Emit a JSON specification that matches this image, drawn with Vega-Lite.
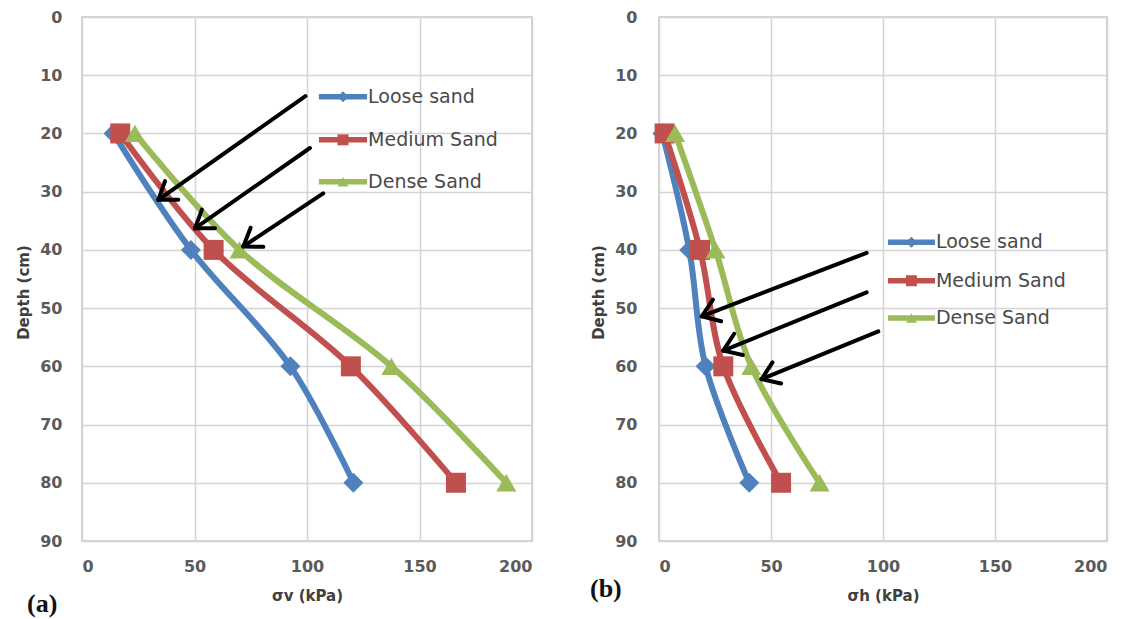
{
  "$schema": "https://vega.github.io/schema/vega-lite/v6.json",
  "background": "white",
  "padding": {"left": 15, "top": 8, "right": 5, "bottom": 5},
  "spacing": 127,
  "bounds": "flush",
  "datasets": {
    "pts": [
      {"panel": "a", "series": "Loose sand", "x": 14, "depth": 20},
      {"panel": "a", "series": "Loose sand", "x": 48.4, "depth": 40},
      {"panel": "a", "series": "Loose sand", "x": 92.6, "depth": 60},
      {"panel": "a", "series": "Loose sand", "x": 120.6, "depth": 80},
      {"panel": "a", "series": "Medium Sand", "x": 17, "depth": 20},
      {"panel": "a", "series": "Medium Sand", "x": 58.5, "depth": 40},
      {"panel": "a", "series": "Medium Sand", "x": 119.5, "depth": 60},
      {"panel": "a", "series": "Medium Sand", "x": 166.2, "depth": 80},
      {"panel": "a", "series": "Dense Sand", "x": 23.5, "depth": 20},
      {"panel": "a", "series": "Dense Sand", "x": 70, "depth": 40},
      {"panel": "a", "series": "Dense Sand", "x": 137.5, "depth": 60},
      {"panel": "a", "series": "Dense Sand", "x": 188.6, "depth": 80},
      {"panel": "b", "series": "Loose sand", "x": 1.5, "depth": 20},
      {"panel": "b", "series": "Loose sand", "x": 13.5, "depth": 40},
      {"panel": "b", "series": "Loose sand", "x": 20.8, "depth": 60},
      {"panel": "b", "series": "Loose sand", "x": 40.3, "depth": 80},
      {"panel": "b", "series": "Medium Sand", "x": 2.5, "depth": 20},
      {"panel": "b", "series": "Medium Sand", "x": 18.3, "depth": 40},
      {"panel": "b", "series": "Medium Sand", "x": 28.7, "depth": 60},
      {"panel": "b", "series": "Medium Sand", "x": 54.5, "depth": 80},
      {"panel": "b", "series": "Dense Sand", "x": 7.2, "depth": 20},
      {"panel": "b", "series": "Dense Sand", "x": 25.2, "depth": 40},
      {"panel": "b", "series": "Dense Sand", "x": 41.2, "depth": 60},
      {"panel": "b", "series": "Dense Sand", "x": 71.7, "depth": 80}
    ],
    "leg": [
      {"panel": "a", "series": "Loose sand", "x": 105.3, "xm": 116, "x2": 126.7, "depth": 13.7},
      {"panel": "a", "series": "Medium Sand", "x": 105.3, "xm": 116, "x2": 126.7, "depth": 21.1},
      {"panel": "a", "series": "Dense Sand", "x": 105.3, "xm": 116, "x2": 126.7, "depth": 28.3},
      {"panel": "b", "series": "Loose sand", "x": 102.2, "xm": 112.7, "x2": 123.2, "depth": 38.7},
      {"panel": "b", "series": "Medium Sand", "x": 102.2, "xm": 112.7, "x2": 123.2, "depth": 45.3},
      {"panel": "b", "series": "Dense Sand", "x": 102.2, "xm": 112.7, "x2": 123.2, "depth": 51.7}
    ],
    "arr": [
      {"panel": "a", "x": 99.3, "y": 13.6, "x2": 33.9, "y2": 31.4},
      {"panel": "a", "x": 33.9, "y": 31.4, "x2": 42.8, "y2": 31.39},
      {"panel": "a", "x": 33.9, "y": 31.4, "x2": 36.9, "y2": 28.18},
      {"panel": "a", "x": 101.3, "y": 22.5, "x2": 50.2, "y2": 36.3},
      {"panel": "a", "x": 50.2, "y": 36.3, "x2": 59.11, "y2": 36.3},
      {"panel": "a", "x": 50.2, "y": 36.3, "x2": 53.29, "y2": 33.08},
      {"panel": "a", "x": 107.2, "y": 30.3, "x2": 71.7, "y2": 39.4},
      {"panel": "a", "x": 71.7, "y": 39.4, "x2": 80.58, "y2": 39.48},
      {"panel": "a", "x": 71.7, "y": 39.4, "x2": 74.95, "y2": 36.19},
      {"panel": "b", "x": 92.7, "y": 40.5, "x2": 19.1, "y2": 51.4},
      {"panel": "b", "x": 19.1, "y": 51.4, "x2": 27.76, "y2": 52.25},
      {"panel": "b", "x": 19.1, "y": 51.4, "x2": 24.09, "y2": 48.56},
      {"panel": "b", "x": 92.7, "y": 47.3, "x2": 28.7, "y2": 57.3},
      {"panel": "b", "x": 28.7, "y": 57.3, "x2": 37.41, "y2": 58.06},
      {"panel": "b", "x": 28.7, "y": 57.3, "x2": 33.56, "y2": 54.41},
      {"panel": "b", "x": 97.9, "y": 54.0, "x2": 45.8, "y2": 62.2},
      {"panel": "b", "x": 45.8, "y": 62.2, "x2": 54.51, "y2": 62.96},
      {"panel": "b", "x": 45.8, "y": 62.2, "x2": 50.64, "y2": 59.31}
    ]
  },
  "config": {
    "view": {"stroke": "#c8c8c8", "strokeWidth": 1.5},
    "axis": {
      "grid": true,
      "gridColor": "#d4d4d4",
      "gridWidth": 1.5,
      "domain": false,
      "ticks": false,
      "labelFont": "DejaVu Sans",
      "labelFontSize": 16,
      "labelFontWeight": "bold",
      "labelColor": "#5a5a5a",
      "titleFont": "DejaVu Sans",
      "titleFontSize": 15,
      "titleFontWeight": "bold",
      "titleColor": "#404040"
    },
    "title": {
      "font": "Liberation Serif",
      "fontSize": 26,
      "fontWeight": "bold",
      "color": "#111111",
      "orient": "bottom",
      "anchor": "start",
      "frame": "group"
    }
  },
  "hconcat": [
    {
      "width": 450,
      "height": 524,
      "title": {"text": "(a)", "dx": -55, "offset": -12},
      "layer": [
        {
          "data": {"name": "pts"},
          "transform": [{"filter": "datum.panel === 'a'"}],
          "mark": {"type": "line", "strokeWidth": 6, "interpolate": "catmull-rom"},
          "encoding": {
            "x": {"field": "x", "type": "quantitative", "scale": {"domain": [0, 200]},
                  "axis": {"values": [0, 50, 100, 150, 200], "title": "σv (kPa)", "labelPadding": 17, "titlePadding": 14}},
            "y": {"field": "depth", "type": "quantitative", "scale": {"domain": [0, 90], "reverse": true},
                  "axis": {"values": [0, 10, 20, 30, 40, 50, 60, 70, 80, 90], "title": "Depth (cm)", "labelPadding": 20, "titlePadding": 8, "titleY": 275}},
            "color": {"field": "series", "type": "nominal", "legend": null,
                      "scale": {"domain": ["Loose sand", "Medium Sand", "Dense Sand"], "range": ["#4f81bd", "#c0504d", "#9bbb59"]}},
            "order": {"field": "depth"}
          }
        },
        {
          "data": {"name": "pts"},
          "transform": [{"filter": "datum.panel === 'a'"}],
          "mark": {"type": "point", "filled": true, "opacity": 1, "size": 400},
          "encoding": {
            "x": {"field": "x", "type": "quantitative"},
            "y": {"field": "depth", "type": "quantitative"},
            "color": {"field": "series", "type": "nominal", "legend": null},
            "shape": {"field": "series", "type": "nominal", "legend": null,
                      "scale": {"domain": ["Loose sand", "Medium Sand", "Dense Sand"], "range": ["diamond", "square", "triangle-up"]}}
          }
        },
        {
          "data": {"name": "leg"},
          "transform": [{"filter": "datum.panel === 'a'"}],
          "mark": {"type": "rule", "strokeWidth": 5.5},
          "encoding": {
            "x": {"field": "x", "type": "quantitative"},
            "x2": {"field": "x2"},
            "y": {"field": "depth", "type": "quantitative"},
            "color": {"field": "series", "type": "nominal", "legend": null}
          }
        },
        {
          "data": {"name": "leg"},
          "transform": [{"filter": "datum.panel === 'a'"}],
          "mark": {"type": "point", "filled": true, "opacity": 1, "size": 120},
          "encoding": {
            "x": {"field": "xm", "type": "quantitative"},
            "y": {"field": "depth", "type": "quantitative"},
            "color": {"field": "series", "type": "nominal", "legend": null},
            "shape": {"field": "series", "type": "nominal", "legend": null}
          }
        },
        {
          "data": {"name": "leg"},
          "transform": [{"filter": "datum.panel === 'a'"}],
          "mark": {"type": "text", "align": "left", "baseline": "middle", "dx": 1, "font": "DejaVu Sans", "fontSize": 19, "color": "#4a4a4a"},
          "encoding": {
            "x": {"field": "x2", "type": "quantitative"},
            "y": {"field": "depth", "type": "quantitative"},
            "text": {"field": "series"}
          }
        },
        {
          "data": {"name": "arr"},
          "transform": [{"filter": "datum.panel === 'a'"}],
          "mark": {"type": "rule", "strokeWidth": 4, "color": "#000000", "strokeCap": "round"},
          "encoding": {
            "x": {"field": "x", "type": "quantitative"},
            "y": {"field": "y", "type": "quantitative"},
            "x2": {"field": "x2"},
            "y2": {"field": "y2"}
          }
        }
      ]
    },
    {
      "width": 448,
      "height": 524,
      "title": {"text": "(b)", "dx": -69, "offset": -27},
      "layer": [
        {
          "data": {"name": "pts"},
          "transform": [{"filter": "datum.panel === 'b'"}],
          "mark": {"type": "line", "strokeWidth": 6, "interpolate": "catmull-rom"},
          "encoding": {
            "x": {"field": "x", "type": "quantitative", "scale": {"domain": [0, 200]},
                  "axis": {"values": [0, 50, 100, 150, 200], "title": "σh (kPa)", "labelPadding": 17, "titlePadding": 14}},
            "y": {"field": "depth", "type": "quantitative", "scale": {"domain": [0, 90], "reverse": true},
                  "axis": {"values": [0, 10, 20, 30, 40, 50, 60, 70, 80, 90], "title": "Depth (cm)", "labelPadding": 22, "titlePadding": 8, "titleY": 275}},
            "color": {"field": "series", "type": "nominal", "legend": null,
                      "scale": {"domain": ["Loose sand", "Medium Sand", "Dense Sand"], "range": ["#4f81bd", "#c0504d", "#9bbb59"]}},
            "order": {"field": "depth"}
          }
        },
        {
          "data": {"name": "pts"},
          "transform": [{"filter": "datum.panel === 'b'"}],
          "mark": {"type": "point", "filled": true, "opacity": 1, "size": 400},
          "encoding": {
            "x": {"field": "x", "type": "quantitative"},
            "y": {"field": "depth", "type": "quantitative"},
            "color": {"field": "series", "type": "nominal", "legend": null},
            "shape": {"field": "series", "type": "nominal", "legend": null,
                      "scale": {"domain": ["Loose sand", "Medium Sand", "Dense Sand"], "range": ["diamond", "square", "triangle-up"]}}
          }
        },
        {
          "data": {"name": "leg"},
          "transform": [{"filter": "datum.panel === 'b'"}],
          "mark": {"type": "rule", "strokeWidth": 5.5},
          "encoding": {
            "x": {"field": "x", "type": "quantitative"},
            "x2": {"field": "x2"},
            "y": {"field": "depth", "type": "quantitative"},
            "color": {"field": "series", "type": "nominal", "legend": null}
          }
        },
        {
          "data": {"name": "leg"},
          "transform": [{"filter": "datum.panel === 'b'"}],
          "mark": {"type": "point", "filled": true, "opacity": 1, "size": 120},
          "encoding": {
            "x": {"field": "xm", "type": "quantitative"},
            "y": {"field": "depth", "type": "quantitative"},
            "color": {"field": "series", "type": "nominal", "legend": null},
            "shape": {"field": "series", "type": "nominal", "legend": null}
          }
        },
        {
          "data": {"name": "leg"},
          "transform": [{"filter": "datum.panel === 'b'"}],
          "mark": {"type": "text", "align": "left", "baseline": "middle", "dx": 1, "font": "DejaVu Sans", "fontSize": 19, "color": "#4a4a4a"},
          "encoding": {
            "x": {"field": "x2", "type": "quantitative"},
            "y": {"field": "depth", "type": "quantitative"},
            "text": {"field": "series"}
          }
        },
        {
          "data": {"name": "arr"},
          "transform": [{"filter": "datum.panel === 'b'"}],
          "mark": {"type": "rule", "strokeWidth": 4, "color": "#000000", "strokeCap": "round"},
          "encoding": {
            "x": {"field": "x", "type": "quantitative"},
            "y": {"field": "y", "type": "quantitative"},
            "x2": {"field": "x2"},
            "y2": {"field": "y2"}
          }
        }
      ]
    }
  ]
}
